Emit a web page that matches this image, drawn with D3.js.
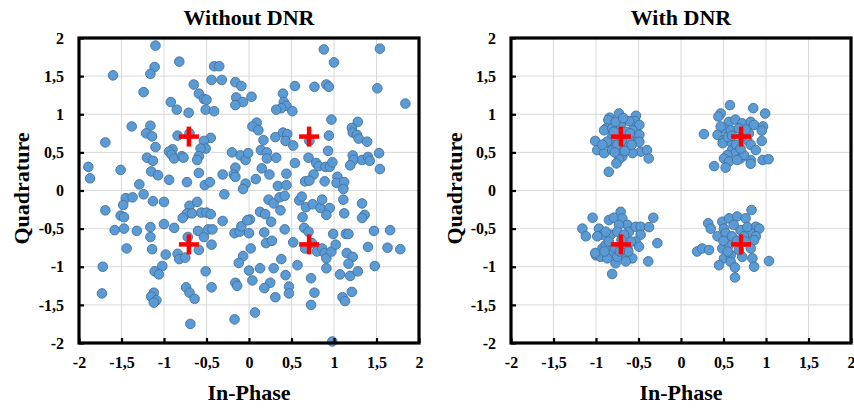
<!DOCTYPE html>
<html><head><meta charset="utf-8">
<script src="https://cdn.jsdelivr.net/npm/d3@7"></script>
<style>body{margin:0;background:#fff}</style>
</head><body>
<svg id="c" width="854" height="410"></svg>
<script>
const ticks = [-2,-1.5,-1,-0.5,0,0.5,1,1.5,2];
const tickLabels = ["-2","-1,5","-1","-0,5","0","0,5","1","1,5","2"];
const titles = ["Without DNR","With DNR"];
const xTitle = "In-Phase", yTitle = "Quadrature";
const refI = [-0.707, 0.707, -0.707, 0.707];
const refQ = [0.707, 0.707, -0.707, -0.707];

// Without DNR: In-phase / quadrature values
const rawI = [-1.10,-1.11,-1.16,-1.60,-0.82,-0.41,-0.35,-0.44,-0.32,-0.16,-0.09,-0.65,-1.24,-0.59,-0.53,-0.50,-0.92,-0.15,-0.07,-0.16,-0.85,-0.71,-0.51,-0.41,-1.38,-1.16,-1.21,-1.14,-0.84,-0.70,-0.45,-0.53,-1.69,-1.10,-0.51,-0.57,-0.90,-0.94,-0.91,-0.88,-0.79,-0.77,-0.59,-0.61,-1.20,-1.13,-0.20,-0.10,-0.04,-0.01,-1.89,-1.87,-1.51,-1.15,-1.07,-0.59,-0.31,-0.16,-0.18,-0.16,-0.94,-0.73,-0.52,-0.46,-1.29,-0.04,-0.07,
0.88,1.54,1.00,0.54,0.77,0.91,0.94,1.51,1.84,0.03,0.40,0.41,0.44,0.38,0.32,0.51,0.97,1.28,1.21,1.22,1.27,1.29,1.39,0.09,0.04,0.11,0.17,0.31,0.40,0.45,0.43,0.52,0.71,0.94,0.93,0.14,0.21,0.21,0.32,0.70,0.79,0.82,0.54,0.90,0.95,0.98,1.22,1.23,1.19,1.33,1.40,1.42,1.53,1.54,0.15,0.24,0.44,0.76,0.66,0.71,0.89,1.04,1.03,1.12,0.08,0.34,0.44,1.11,
1.11,0.23,0.29,0.36,0.42,0.59,0.62,0.67,0.75,0.84,0.86,0.95,0.91,0.63,1.12,1.33,1.36,1.33,0.13,0.19,0.26,0.37,0.01,0.42,0.65,0.70,0.00,0.18,0.20,0.27,0.52,0.66,0.74,0.80,0.86,0.89,0.91,0.97,1.02,0.99,1.14,1.17,1.47,1.66,1.40,1.63,1.78,1.15,1.22,1.17,1.48,0.02,0.38,0.57,0.91,1.07,1.19,1.28,0.00,0.13,0.29,0.04,0.43,0.73,0.25,0.18,0.47,0.47,0.31,0.77,1.21,1.10,1.13,0.73,0.07,0.98,
-0.29,-1.45,-1.37,-1.48,-1.24,-1.13,-1.00,-1.69,-1.51,-1.47,-0.70,-0.61,-0.73,-0.67,-0.78,-0.56,-0.50,-0.45,-0.31,-1.58,-1.47,-1.32,-1.16,-1.16,-1.00,-0.88,-0.72,-0.60,-0.53,-0.48,-0.43,-0.44,-0.17,-0.11,-0.09,-0.02,-1.44,-1.14,-0.98,-0.84,-0.82,-0.75,-0.59,-0.07,-0.12,-1.72,-1.02,-1.11,-1.06,-0.51,-0.16,-0.14,-0.74,-0.70,-0.64,-0.44,-1.12,-1.15,-1.09,-1.12,-1.73,-0.69,-0.17];
const rawQ = [1.90,1.62,1.53,1.51,1.69,1.63,1.63,1.45,1.45,1.42,1.37,1.39,1.29,1.27,1.20,1.19,1.16,1.22,1.16,1.12,1.06,1.02,1.06,1.04,0.84,0.85,0.75,0.71,0.72,0.75,0.69,0.65,0.63,0.57,0.55,0.55,0.54,0.51,0.47,0.42,0.45,0.43,0.45,0.40,0.43,0.39,0.50,0.46,0.40,0.49,0.31,0.16,0.27,0.25,0.20,0.23,0.21,0.30,0.21,0.18,0.14,0.11,0.07,0.11,0.08,0.09,0.02,
1.85,1.86,1.68,1.37,1.36,1.39,1.36,1.34,1.14,1.23,1.27,1.16,1.11,1.08,1.06,1.04,0.93,0.90,0.82,0.76,0.73,0.68,0.64,0.89,0.84,0.79,0.66,0.70,0.76,0.74,0.65,0.59,0.65,0.72,0.52,0.53,0.50,0.42,0.43,0.43,0.36,0.32,0.36,0.31,0.31,0.37,0.46,0.40,0.33,0.40,0.44,0.39,0.49,0.28,0.29,0.21,0.22,0.21,0.12,0.13,0.12,0.18,0.10,0.11,0.15,0.06,0.07,0.02,
-0.12,-0.12,-0.17,-0.09,-0.07,-0.13,-0.08,-0.22,-0.18,-0.23,-0.12,-0.23,-0.32,-0.35,-0.30,-0.17,-0.32,-0.36,-0.28,-0.31,-0.41,-0.26,-0.38,-0.51,-0.49,-0.54,-0.56,-0.55,-0.69,-0.66,-0.68,-0.76,-0.69,-0.80,-0.76,-0.82,-0.89,-0.80,-0.71,-0.57,-0.57,-0.57,-0.53,-0.52,-0.74,-0.75,-0.77,-0.82,-0.87,-0.96,-0.99,-0.76,-0.90,-0.98,-1.02,-1.10,-1.12,-1.06,-1.05,-1.02,-1.02,-1.18,-1.11,-1.15,-1.21,-1.28,-1.26,-1.35,-1.40,-1.34,-1.33,-1.40,-1.45,-1.50,-1.60,-1.98,
-0.05,-0.10,-0.09,-0.19,-0.05,-0.14,-0.15,-0.26,-0.33,-0.35,-0.20,-0.15,-0.30,-0.30,-0.36,-0.29,-0.29,-0.31,-0.40,-0.52,-0.50,-0.53,-0.48,-0.61,-0.44,-0.49,-0.61,-0.53,-0.61,-0.51,-0.51,-0.71,-0.56,-0.54,-0.47,-0.39,-0.76,-0.77,-0.84,-0.83,-0.90,-0.88,-0.78,-0.86,-0.95,-1.00,-0.99,-1.06,-1.10,-1.06,-1.21,-1.25,-1.27,-1.34,-1.42,-1.27,-1.34,-1.39,-1.44,-1.47,-1.35,-1.75,-1.69];

// With DNR: In-phase / quadrature values
const dnrI = [-0.73,-0.84,-0.855,-0.53,-0.54,-0.61,-0.49,-0.88,-0.905,-0.81,-0.71,-0.57,-0.65,-0.49,-0.81,-0.79,-1.01,-0.985,-0.905,-0.83,-0.81,-0.71,-0.61,-0.55,-0.49,-0.474,-0.40,-0.38,-0.69,-0.73,-0.76,-0.85,-0.57,-0.65,-0.87,-0.61,-0.926,-0.77,-0.70,-0.75,-0.66,-0.60,-0.68,-0.58,-0.78,
0.576,0.85,0.99,0.467,0.44,0.565,0.64,0.72,0.82,0.86,0.965,0.95,0.27,0.43,0.505,0.585,0.50,0.49,0.80,0.78,0.82,0.88,0.95,0.60,0.60,0.64,0.545,0.505,0.565,0.525,0.39,0.70,0.82,0.82,0.96,1.03,0.72,0.68,0.467,0.74,0.66,0.55,0.65,0.70,0.76,0.60,
-0.71,-1.04,-0.847,-0.79,-0.69,-0.63,-0.73,-1.16,-1.12,-0.965,-0.925,-0.985,-0.827,-0.886,-0.75,-0.61,-0.533,-0.475,-0.376,-0.326,-0.475,-0.533,-0.494,-0.573,-0.278,-0.385,-0.925,-1.00,-0.945,-1.01,-0.886,-0.81,-0.69,-0.65,-0.77,-0.81,-0.867,-0.75,-0.63,-0.59,-0.85,-0.67,-0.70,-0.78,-0.62,-0.90,-0.72,
0.83,0.32,0.35,0.486,0.565,0.66,0.76,0.88,0.92,0.506,0.43,0.525,0.70,0.82,0.88,0.86,0.60,0.19,0.25,0.33,0.486,0.565,0.506,0.585,0.72,0.82,0.84,0.86,1.035,0.447,0.585,0.635,0.635,0.74,0.76,0.68,0.62,0.50,0.66,0.78,0.55];
const dnrQ = [1.01,0.955,0.925,0.98,0.91,0.91,0.86,0.815,0.79,0.815,0.86,0.79,0.77,0.73,0.705,0.77,0.65,0.53,0.49,0.60,0.53,0.555,0.575,0.64,0.64,0.51,0.53,0.42,0.445,0.41,0.355,0.245,0.49,0.64,0.64,0.685,0.60,0.90,0.65,0.60,0.52,0.75,0.95,0.60,0.50,
1.12,1.08,1.01,1.01,0.97,0.90,0.93,0.88,0.90,0.86,0.84,0.785,0.74,0.73,0.815,0.79,0.66,0.62,0.75,0.66,0.60,0.53,0.65,0.62,0.53,0.49,0.465,0.42,0.38,0.30,0.32,0.42,0.40,0.35,0.40,0.41,0.71,0.815,0.84,0.465,0.40,0.70,0.60,0.55,0.80,0.72,
-0.28,-0.357,-0.387,-0.357,-0.367,-0.45,-0.45,-0.50,-0.60,-0.50,-0.58,-0.60,-0.58,-0.54,-0.54,-0.54,-0.475,-0.475,-0.48,-0.357,-0.58,-0.67,-0.737,-0.89,-0.69,-0.93,-0.76,-0.85,-0.87,-0.82,-0.715,-0.82,-0.85,-0.93,-0.955,-1.095,-0.89,-0.87,-0.76,-0.67,-0.67,-0.58,-0.65,-0.75,-0.80,-0.80,-0.80,
-0.256,-0.43,-0.50,-0.41,-0.365,-0.34,-0.365,-0.475,-0.50,-0.50,-0.60,-0.56,-0.52,-0.56,-0.60,-0.65,-0.60,-0.80,-0.76,-0.78,-0.76,-0.715,-0.89,-0.85,-0.87,-0.76,-0.89,-1.00,-0.925,-0.98,-0.935,-1.01,-1.14,-0.60,-0.67,-0.78,-0.45,-0.66,-0.66,-0.48,-0.80];

const FONT = "'Liberation Serif','Times New Roman',serif";
const svg = d3.select("#c");
const panels = [
  {left: 79, I: rawI, Q: rawQ, title: titles[0], ylabX: 22},
  {left: 511, I: dnrI, Q: dnrQ, title: titles[1], ylabX: 455}
];
const TOP = 38, BOTTOM = 343, PW = 340;
const fmt = d => tickLabels[ticks.indexOf(d)];

panels.forEach(p => {
  const x = d3.scaleLinear().domain([-2, 2]).range([p.left, p.left + PW]);
  const y = d3.scaleLinear().domain([-2, 2]).range([BOTTOM, TOP]);
  const g = svg.append("g");

  // gridlines
  g.append("g").selectAll("line").data(ticks).join("line")
    .attr("x1", d => x(d)).attr("x2", d => x(d)).attr("y1", TOP).attr("y2", BOTTOM)
    .attr("stroke", "#d9d9d9").attr("stroke-width", 1);
  g.append("g").selectAll("line").data(ticks).join("line")
    .attr("y1", d => y(d)).attr("y2", d => y(d)).attr("x1", x(-2)).attr("x2", x(2))
    .attr("stroke", "#d9d9d9").attr("stroke-width", 1);

  // points
  const pts = p.I.map((v, i) => [v, p.Q[i]]);
  g.append("g").selectAll("circle").data(pts).join("circle")
    .attr("cx", d => x(d[0])).attr("cy", d => y(d[1])).attr("r", 4.8)
    .attr("fill", "#5b9bd5").attr("stroke", "#41719c").attr("stroke-width", 0.9);

  // reference crosses
  const refs = refI.map((v, i) => [v, refQ[i]]);
  const cg = g.append("g").attr("stroke", "#ff0000").attr("stroke-width", 4.5);
  cg.selectAll(".h").data(refs).join("line").attr("class", "h")
    .attr("x1", d => x(d[0]) - 10).attr("x2", d => x(d[0]) + 10)
    .attr("y1", d => y(d[1])).attr("y2", d => y(d[1]));
  cg.selectAll(".v").data(refs).join("line").attr("class", "v")
    .attr("x1", d => x(d[0])).attr("x2", d => x(d[0]))
    .attr("y1", d => y(d[1]) - 10).attr("y2", d => y(d[1]) + 10);

  // axes
  const ax = g.append("g").attr("transform", `translate(0,${BOTTOM})`)
    .call(d3.axisBottom(x).tickValues(ticks).tickFormat(fmt).tickSizeInner(-5).tickSizeOuter(0).tickPadding(14));
  const ay = g.append("g").attr("transform", `translate(${p.left},0)`)
    .call(d3.axisLeft(y).tickValues(ticks).tickFormat(fmt).tickSizeInner(-5).tickSizeOuter(0).tickPadding(15));
  [ax, ay].forEach(a => {
    a.select(".domain").remove();
    a.selectAll(".tick line").attr("stroke", "#000").attr("stroke-width", 2.2);
    a.selectAll("text").attr("font-family", FONT).attr("font-weight", "bold")
      .attr("font-size", 16).attr("fill", "#000");
  });

  // frame
  g.append("rect").attr("x", x(-2)).attr("y", y(2)).attr("width", x(2) - x(-2)).attr("height", y(-2) - y(2))
    .attr("fill", "none").attr("stroke", "#000").attr("stroke-width", 3.2);

  // titles
  g.append("text").attr("x", (x(-2) + x(2)) / 2).attr("y", 25).attr("text-anchor", "middle")
    .attr("font-family", FONT).attr("font-weight", "bold").attr("font-size", 22).text(p.title);
  g.append("text").attr("x", (x(-2) + x(2)) / 2).attr("y", 400).attr("text-anchor", "middle")
    .attr("font-family", FONT).attr("font-weight", "bold").attr("font-size", 22).text(xTitle);
  g.append("text").attr("transform", `translate(${p.ylabX + 7},${(TOP + BOTTOM) / 2 - 2}) rotate(-90)`)
    .attr("text-anchor", "middle")
    .attr("font-family", FONT).attr("font-weight", "bold").attr("font-size", 22).text(yTitle);
});
</script>
</body></html>
